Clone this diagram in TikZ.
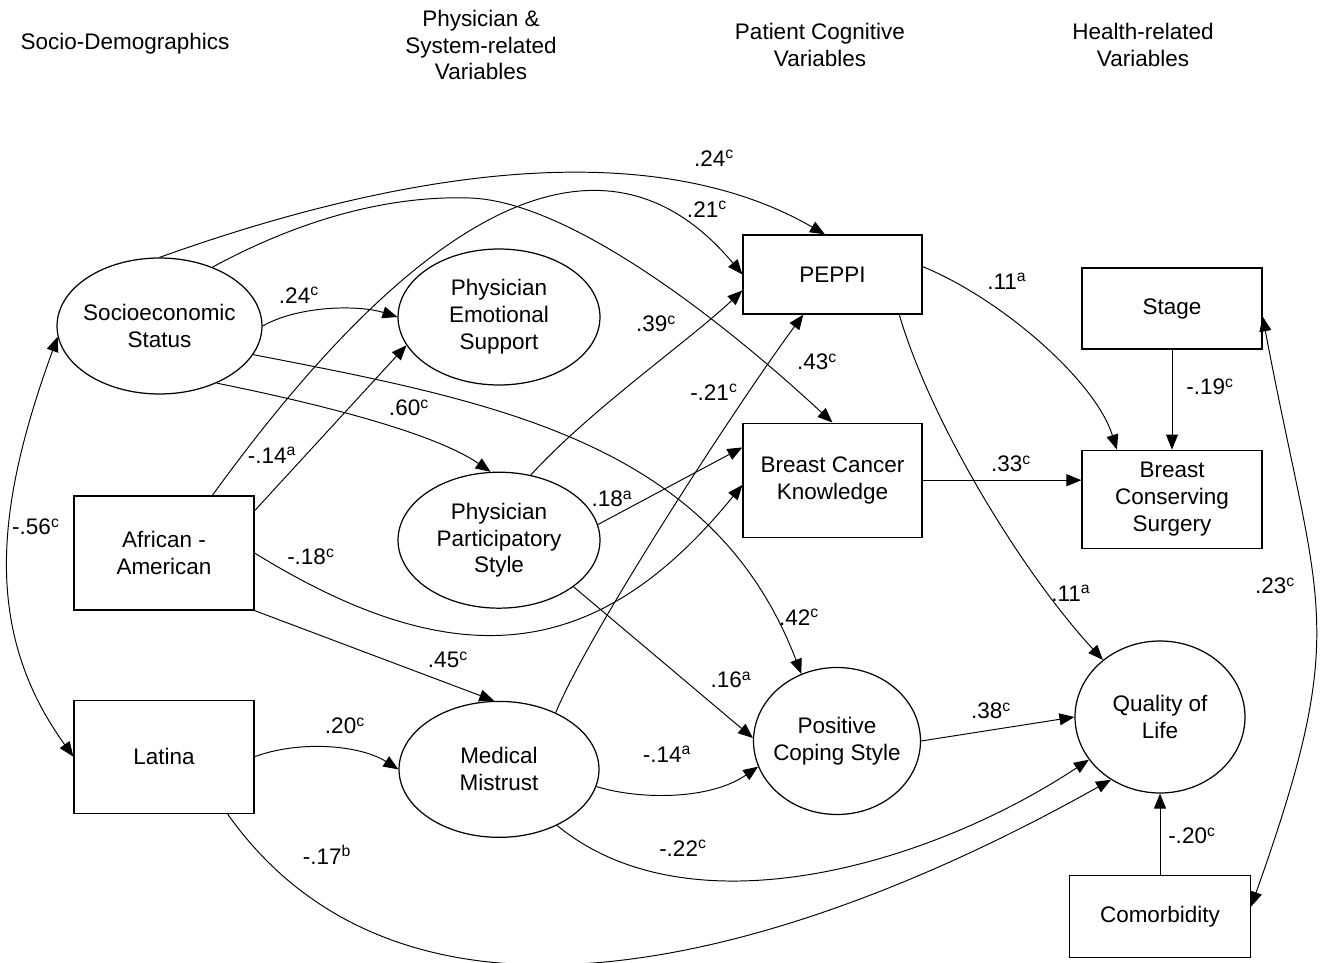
\documentclass[tikz,border=0pt]{standalone}
\usepackage{fontspec}
\setmainfont{Liberation Sans}
\usetikzlibrary{shapes.geometric,arrows.meta,positioning}

\begin{document}
\begin{tikzpicture}[x=0.02cm,y=-0.02cm,
    node distance=2cm,
    every node/.style={font=\fontsize{12.8}{15.3}\selectfont},
    latent/.style={ellipse,draw,line width=0.7pt,inner sep=0pt,inner xsep=-8pt,align=center,minimum width=4.04cm,minimum height=2.72cm},
    observed/.style={rectangle,draw,line width=0.7pt,inner sep=0pt,align=center,minimum width=3.6cm},
    heading/.style={align=center,inner sep=0pt},
    coef/.style={inner sep=0pt},
    arrow/.style={-{Triangle[length=8.5pt,width=6.8pt]},line width=0.55pt},
    both/.style={{Triangle[length=8.5pt,width=6.8pt]}-{Triangle[length=8.5pt,width=6.8pt]},line width=0.55pt}
]
\useasboundingbox (0,0) rectangle (1326,963);

% Column headings
\node[heading] (demovars) at (125,44) {Socio-Demographics};
\node[heading] (physvars) at (481,45) {Physician \&\\System-related\\Variables};
\node[heading] (cogvars) at (820,45) {Patient Cognitive\\Variables};
\node[heading] (healthvars) at (1143,45) {Health-related\\Variables};

% Socio-demographics
\node[latent,minimum width=4.1cm] (ses) at (159.5,326) {Socioeconomic\\Status};
\node[observed,minimum height=2.28cm] (african) at (164,553) {African -\\American};
\node[observed,minimum height=2.26cm,below=1.78cm of african] (latina) {Latina};

% Physician and system-related
\node[latent] (emotional) at (499,317) {Physician\\Emotional\\Support};
\node[latent,below=1.72cm of emotional] (particip) {Physician\\Participatory\\Style};
\node[latent,minimum width=4cm,below=1.84cm of particip] (mistrust) {Medical\\Mistrust};

% Patient cognitive
\node[observed,minimum width=3.58cm,minimum height=1.58cm] (peppi) at (832.5,274.5) {PEPPI};
\node[observed,minimum width=3.58cm,minimum height=2.28cm,below=2.16cm of peppi] (knowledge) {Breast Cancer\\Knowledge};
\node[latent,minimum width=3.34cm,minimum height=2.94cm] (coping) at (837,741) {Positive\\Coping Style};

% Health-related
\node[observed,minimum height=1.62cm] (stage) at (1172,308.5) {Stage};
\node[observed,minimum height=1.96cm,below=2cm of stage] (surgery) {Breast\\Conserving\\Surgery};
\node[latent,minimum width=3.4cm,minimum height=3.04cm] (qol) at (1160,717) {Quality of\\Life};
\node[observed,minimum width=3.62cm,minimum height=1.64cm,below=1.62cm of qol] (comorb) {Comorbidity};

% Paths from socio-demographics
\draw[arrow] (ses.north) .. controls (367,183) and (635,125) .. ([xshift=-0.15cm]peppi.north);
\draw[arrow] (ses.48) .. controls (290,225) and (380,195) .. (470,198) .. controls (560,201) and (700,300) .. (knowledge.north);
\draw[arrow] (african.50) .. controls (459,155) and (626,135) .. (peppi.west);
\draw[arrow] (ses.east) .. controls (300,305) and (360,305) .. (emotional.west);
\draw[arrow] (african.25) -- (emotional.197);
\draw[arrow] (ses.-45) .. controls (300,400) and (430,430) .. (particip.97);
\draw[arrow] (ses.-17) .. controls (498,402) and (713,443) .. (coping.118);
\draw[arrow] (african.east) .. controls (460,680) and (600,660) .. (knowledge.183);
\draw[arrow] (african.south east) -- (mistrust.94);
\draw[arrow] (latina.east) .. controls (300,740) and (360,745) .. (mistrust.west);
\draw[arrow] (latina.-42) .. controls (410,1072) and (797,956) .. (qol.232);

% Paths from physician and system-related
\draw[arrow] (particip.64) .. controls (590,410) and (690,340) .. (peppi.190);
\draw[arrow] (particip.9) -- (knowledge.160);
\draw[arrow] (particip.-32) -- (coping.178);
\draw[arrow] (mistrust.45) .. controls (590,630) and (740,400) .. (peppi.234);
\draw[arrow] (mistrust.-10) .. controls (640,800) and (710,800) .. (coping.198);
\draw[arrow] (mistrust.-44) .. controls (690,935) and (930,865) .. (qol.211);

% Paths to health-related
\draw[arrow] (peppi.5) .. controls (1000,298) and (1095,380) .. (surgery.138);
\draw[arrow] (peppi.-31) .. controls (930,420) and (1020,570) .. (qol.135);
\draw[arrow] (knowledge.east) -- (knowledge.east -| surgery.west);
\draw[arrow] (stage.south) -- (surgery.north);
\draw[arrow] (coping.east) -- (qol.west);
\draw[arrow] (comorb.north) -- (qol.south);

% Correlations
\draw[both] (stage.-5) .. controls (1318,610) and (1352,623) .. (comorb.6);
\draw[both] (ses.186) .. controls (-4,506) and (-18,630) .. (latina.west);

% Coefficients
\node[coef] (w-ses-peppi) at (714,158) {.24\textsuperscript{c}};
\node[coef] (w-afr-peppi) at (707,209) {.21\textsuperscript{c}};
\node[coef] (w-ses-emo) at (299,295) {.24\textsuperscript{c}};
\node[coef] (w-afr-emo) at (272,455) {-.14\textsuperscript{a}};
\node[coef] (w-ses-part) at (409,408) {.60\textsuperscript{c}};
\node[coef] (w-part-peppi) at (656,324) {.39\textsuperscript{c}};
\node[coef] (w-ses-know) at (817,362) {.43\textsuperscript{c}};
\node[coef] (w-mis-peppi) at (714,392) {-.21\textsuperscript{c}};
\node[coef] (w-part-know) at (612,499) {.18\textsuperscript{a}};
\node[coef] (w-afr-know) at (311,557) {-.18\textsuperscript{c}};
\node[coef] (w-afr-mis) at (448,660) {.45\textsuperscript{c}};
\node[coef] (w-ses-cop) at (799,617) {.42\textsuperscript{c}};
\node[coef] (w-part-cop) at (731,680) {.16\textsuperscript{a}};
\node[coef] (w-lat-mis) at (345,726) {.20\textsuperscript{c}};
\node[coef] (w-mis-cop) at (667,754) {-.14\textsuperscript{a}};
\node[coef] (w-mis-qol) at (683,848) {-.22\textsuperscript{c}};
\node[coef] (w-lat-qol) at (327,855) {-.17\textsuperscript{b}};
\node[coef] (w-peppi-surg) at (1007,281) {.11\textsuperscript{a}};
\node[coef] (w-stage-surg) at (1210,387) {-.19\textsuperscript{c}};
\node[coef] (w-know-surg) at (1011,464) {.33\textsuperscript{c}};
\node[coef] (w-peppi-qol) at (1071,593) {.11\textsuperscript{a}};
\node[coef] (w-stage-com) at (1275,586) {.23\textsuperscript{c}};
\node[coef] (w-cop-qol) at (991,711) {.38\textsuperscript{c}};
\node[coef] (w-com-qol) at (1192,836) {-.20\textsuperscript{c}};
\node[coef] (w-ses-lat) at (36,527) {-.56\textsuperscript{c}};

\end{tikzpicture}
\end{document}
